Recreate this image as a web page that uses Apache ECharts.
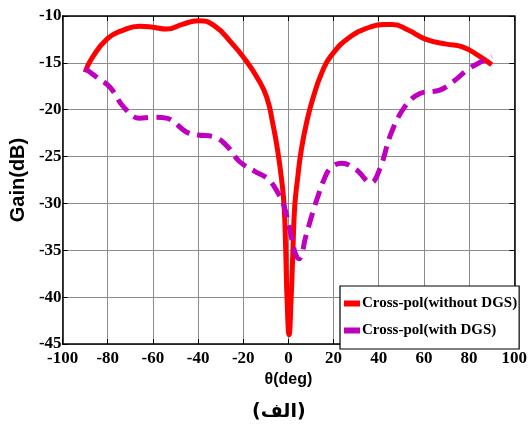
<!DOCTYPE html>
<html>
<head>
<meta charset="utf-8">
<script src="https://cdn.jsdelivr.net/npm/echarts@6/dist/echarts.min.js"></script>
<style>html,body{margin:0;padding:0;background:#fff;}#c{width:530px;height:430px;}</style>
</head>
<body>
<div id="c"></div>
<script>
var xTicks = [-100, -80, -60, -40, -20, 0, 20, 40, 60, 80, 100];
var yTicks = [-45, -40, -35, -30, -25, -20, -15, -10];

var angleNoDGS = [-90, -87, -80, -73, -66, -60, -54, -47, -40, -33, -24.7, -19, -14, -9.7, -6.9, -4.8, -3, -1.9, -1.2, -0.6, 0.3, 1.2, 2, 2.8, 4, 5.7, 8.3, 11.1, 14.7, 19, 28, 36, 42, 46, 53, 61, 70, 77, 84, 90];
var gainNoDGS  = [-16, -14.5, -12.4, -11.5, -11.1, -11.2, -11.4, -10.9, -10.5, -11, -13, -14.7, -16.5, -18.6, -21.5, -24.3, -27.5, -30.3, -35, -40.2, -44, -40.2, -35, -30.3, -27.5, -24.3, -21.1, -18.6, -16.1, -14.2, -12.1, -11.2, -10.9, -10.9, -11.5, -12.5, -13, -13.3, -14.2, -15.2];

var angleDGS = [-90, -85, -79, -73, -66, -60, -54, -45, -40, -33, -27.5, -21.8, -14.7, -9, -4.8, -1.9, 0.9, 3, 4.7, 6, 7.3, 9.5, 11.6, 13, 15.5, 18.7, 23.7, 30, 36.5, 40.5, 45.5, 51.5, 58, 67, 73, 80, 86, 90];
var gainDGS  = [-15.6, -16.5, -17.6, -19.7, -20.9, -20.8, -20.9, -22.4, -22.7, -22.9, -23.8, -25.5, -26.6, -27.4, -28.8, -30.3, -33.1, -35.3, -35.9, -35.4, -33.9, -32, -30.3, -29.3, -27.6, -26.2, -25.7, -26.4, -27.8, -26.3, -22.5, -19.7, -18.3, -17.9, -17, -15.6, -14.8, -14.3];

var seriesNames = ['Cross-pol(without DGS)', 'Cross-pol(with DGS)'];

function pairs(xs, ys) { return xs.map(function (x, i) { return [x, ys[i]]; }); }

var chart = echarts.init(document.getElementById('c'));
var serifFont = '"Liberation Serif", "Times New Roman", serif';
var sansFont = '"Liberation Sans", Arial, sans-serif';

var baseX = {
  type: 'value', min: xTicks[0], max: xTicks[xTicks.length - 1], interval: 20,
  axisLine: { show: true, onZero: false, lineStyle: { color: '#000', width: 1.5 } },
  axisTick: { show: true, inside: true, length: 5, lineStyle: { color: '#000' } },
  splitLine: { show: false }
};
var baseY = {
  type: 'value', min: yTicks[0], max: yTicks[yTicks.length - 1], interval: 5,
  axisLine: { show: true, onZero: false, lineStyle: { color: '#000', width: 1.5 } },
  axisTick: { show: true, inside: true, length: 5, lineStyle: { color: '#000' } },
  splitLine: { show: false }
};

chart.setOption({
  animation: false,
  backgroundColor: '#fff',
  grid: { left: 50, right: 11, top: 16, bottom: 86 },
  xAxis: [
    Object.assign({}, baseX, {
      position: 'bottom',
      name: 'θ(deg)', nameLocation: 'middle', nameGap: 28,
      nameTextStyle: { fontFamily: sansFont, fontWeight: 'bold', fontSize: 16, color: '#000' },
      axisLabel: { fontFamily: serifFont, fontWeight: 'bold', fontSize: 17, color: '#000', margin: 6 },
      splitLine: { show: true, lineStyle: { color: '#8c8c8c', width: 1 } }
    }),
    Object.assign({}, baseX, { position: 'top', axisLabel: { show: false } })
  ],
  yAxis: [
    Object.assign({}, baseY, {
      position: 'left',
      name: 'Gain(dB)', nameLocation: 'middle', nameGap: 26,
      nameTextStyle: { fontFamily: sansFont, fontWeight: 'bold', fontSize: 20, color: '#000' },
      axisLabel: { fontFamily: serifFont, fontWeight: 'bold', fontSize: 17, color: '#000', margin: 1 },
      splitLine: { show: true, lineStyle: { color: '#8c8c8c', width: 1 } }
    }),
    Object.assign({}, baseY, { position: 'right', axisLabel: { show: false } })
  ],
  legend: {
    data: seriesNames,
    orient: 'vertical',
    left: 340, top: 286,
    backgroundColor: '#fff',
    borderColor: '#000', borderWidth: 1.2,
    padding: [9, 2, 10, 4],
    itemGap: 10,
    itemWidth: 16, itemHeight: 6,
    icon: 'rect',
    textStyle: { fontFamily: serifFont, fontWeight: 'bold', fontSize: 15, lineHeight: 17, color: '#000', padding: [0, 0, 0, -3] }
  },
  graphic: [{
    type: 'text', left: 252, top: 403,
    style: { text: '(الف)', font: 'bold 19px "DejaVu Sans", sans-serif', fill: '#000' }
  }],
  series: [
    {
      name: seriesNames[0], type: 'line', data: pairs(angleNoDGS, gainNoDGS),
      smooth: 0.5, showSymbol: false, symbol: 'none',
      itemStyle: { color: '#ff0000' },
      lineStyle: { color: '#ff0000', width: 5 }, z: 3
    },
    {
      name: seriesNames[1], type: 'line', data: pairs(angleDGS, gainDGS),
      smooth: 0.4, showSymbol: false, symbol: 'none',
      itemStyle: { color: '#bf00bf' },
      lineStyle: { color: '#bf00bf', width: 5, type: [15, 8], cap: 'butt' }, z: 4
    }
  ]
});
</script>
</body>
</html>
